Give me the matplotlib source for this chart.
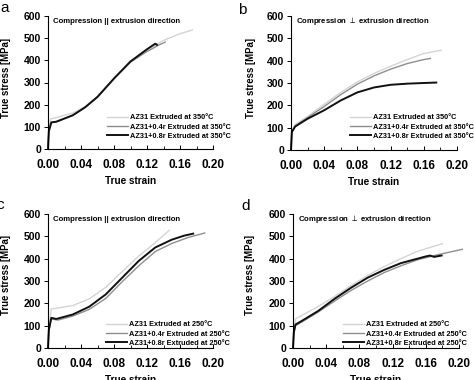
import matplotlib.pyplot as plt
from matplotlib.ticker import MultipleLocator

plt.rcParams['font.family'] = ['Liberation Sans', 'DejaVu Sans']

# ---- data (strain, stress MPa) ----
# panel a: compression || extrusion, 350 C
a_az31_x = [0.0, 0.001, 0.003, 0.01, 0.03, 0.045, 0.06, 0.08, 0.10, 0.12, 0.14, 0.16, 0.175]
a_az31_y = [0, 90, 135, 142, 162, 192, 238, 318, 392, 447, 490, 520, 537]
a_04_x = [0.0, 0.001, 0.004, 0.01, 0.03, 0.045, 0.06, 0.08, 0.10, 0.12, 0.135, 0.142]
a_04_y = [0, 80, 120, 123, 152, 188, 235, 318, 392, 440, 470, 482]
a_08_x = [0.0, 0.001, 0.004, 0.01, 0.03, 0.045, 0.06, 0.08, 0.10, 0.12, 0.13, 0.132]
a_08_y = [0, 80, 120, 123, 152, 188, 235, 318, 395, 450, 475, 470]

# panel b: compression perpendicular to extrusion, 350 C
b_az31_x = [0.0, 0.001, 0.005, 0.02, 0.04, 0.06, 0.08, 0.10, 0.12, 0.14, 0.16, 0.181]
b_az31_y = [0, 85, 115, 150, 205, 258, 305, 343, 375, 405, 432, 447]
b_04_x = [0.0, 0.001, 0.005, 0.02, 0.04, 0.06, 0.08, 0.10, 0.12, 0.14, 0.16, 0.168]
b_04_y = [0, 80, 108, 145, 195, 248, 295, 332, 362, 387, 405, 410]
b_08_x = [0.0, 0.001, 0.005, 0.02, 0.04, 0.06, 0.08, 0.10, 0.12, 0.14, 0.16, 0.175]
b_08_y = [0, 80, 105, 140, 178, 222, 258, 280, 292, 297, 300, 302]

# panel c: compression || extrusion, 250 C
c_az31_x = [0.0, 0.001, 0.004, 0.01, 0.03, 0.05, 0.07, 0.09, 0.11, 0.13, 0.147]
c_az31_y = [0, 90, 175, 178, 190, 220, 272, 342, 412, 472, 527]
c_04_x = [0.0, 0.001, 0.004, 0.012, 0.03, 0.05, 0.07, 0.09, 0.11, 0.13, 0.15, 0.17, 0.19]
c_04_y = [0, 80, 130, 125, 143, 173, 222, 297, 368, 432, 468, 495, 515]
c_08_x = [0.0, 0.001, 0.004, 0.01, 0.03, 0.05, 0.07, 0.09, 0.11, 0.13, 0.15, 0.165, 0.176]
c_08_y = [0, 80, 135, 130, 150, 185, 240, 315, 390, 450, 485, 503, 512]

# panel d: compression perpendicular to extrusion, 250 C
d_az31_x = [0.0, 0.001, 0.003, 0.01, 0.03, 0.05, 0.07, 0.09, 0.11, 0.13, 0.15, 0.18]
d_az31_y = [0, 80, 130, 145, 185, 230, 280, 325, 365, 400, 433, 467]
d_04_x = [0.0, 0.001, 0.003, 0.01, 0.03, 0.05, 0.07, 0.09, 0.11, 0.13, 0.15, 0.175, 0.204]
d_04_y = [0, 70, 100, 115, 160, 210, 258, 300, 338, 368, 395, 418, 442]
d_08_x = [0.0, 0.001, 0.003, 0.01, 0.03, 0.05, 0.07, 0.09, 0.11, 0.13, 0.15, 0.16, 0.165, 0.17, 0.179]
d_08_y = [0, 70, 105, 120, 165, 220, 270, 315, 350, 380, 400, 410, 414, 408, 414]

labels_350 = ["AZ31 Extruded at 350°C",
              "AZ31+0.4r Extruded at 350°C",
              "AZ31+0.8r Extruded at 350°C"]
labels_250 = ["AZ31 Extruded at 250°C",
              "AZ31+0.4r Extruded at 250°C",
              "AZ31+0.8r Extruded at 250°C"]

colors = ["#d4d4d4", "#8e8e8e", "#111111"]
widths = [1.0, 1.0, 1.4]

W, H = 474, 380

# letter, note, series, labels, axes box (px), legend anchor (px),
# ylabel centre (px), xlabel centre (px), letter position (px)
panels = [
    ("a", "Compression || extrusion direction",
     [(a_az31_x, a_az31_y), (a_04_x, a_04_y), (a_08_x, a_08_y)], labels_350,
     [48, 16, 213, 149], (107, 127), (6, 78), (131, 181), (0, 12)),
    ("b", "Compression $\\perp$ extrusion direction",
     [(b_az31_x, b_az31_y), (b_04_x, b_04_y), (b_08_x, b_08_y)], labels_350,
     [291, 16, 457, 150], (350, 127), (251, 78), (374, 182), (238, 14)),
    ("c", "Compression || extrusion direction",
     [(c_az31_x, c_az31_y), (c_04_x, c_04_y), (c_08_x, c_08_y)], labels_250,
     [48, 214, 213, 348], (106, 334), (6, 275), (131, 380), (-4, 209)),
    ("d", "Compression $\\perp$ extrusion direction",
     [(d_az31_x, d_az31_y), (d_04_x, d_04_y), (d_08_x, d_08_y)], labels_250,
     [293, 214, 459, 348], (343, 334), (250, 275), (376, 380), (241, 210)),
]

fig = plt.figure(figsize=(W / 100, H / 100), dpi=100)


def fpx(x, y):
    """pixel (from top-left) -> figure fraction"""
    return x / W, 1 - y / H


for letter, note, series, labels, box, leg, ylab, xlab, let in panels:
    x0, y0, x1, y1 = box
    ax = fig.add_axes([x0 / W, 1 - y1 / H, (x1 - x0) / W, (y1 - y0) / H])
    for (xs, ys), lab, c, lw in zip(series, labels, colors, widths):
        ax.plot(xs, ys, color=c, lw=lw, label=lab, clip_on=False)
    ax.set_xlim(0, 0.2)
    ax.set_ylim(0, 600)
    ax.set_xticks([0.0, 0.04, 0.08, 0.12, 0.16, 0.20])
    ax.set_xticklabels(["0.00", "0.04", "0.08", "0.12", "0.16", "0.20"])
    ax.set_yticks(range(0, 601, 100))
    ax.xaxis.set_minor_locator(MultipleLocator(0.02))
    ax.tick_params(axis='x', direction='in', length=3, width=0.7, pad=7,
                   labelsize=8.5)
    ax.tick_params(axis='x', which='minor', direction='in', length=2, width=0.6)
    ax.tick_params(axis='y', direction='out', length=3, width=0.7, pad=2,
                   labelsize=7.5)
    for lab in ax.get_xticklabels() + ax.get_yticklabels():
        lab.set_fontweight('bold')
    for s in ("top", "right"):
        ax.spines[s].set_visible(False)
    for s in ("left", "bottom"):
        ax.spines[s].set_linewidth(0.8)

    ax.set_xlabel("True strain", fontsize=7.2, fontweight='bold')
    ax.set_ylabel("True stress [MPa]", fontsize=6.9, fontweight='bold')
    ax.xaxis.set_label_coords(*fpx(*xlab), transform=fig.transFigure)
    ax.yaxis.set_label_coords(*fpx(*ylab), transform=fig.transFigure)
    ax.xaxis.label.set_va('center')
    ax.yaxis.label.set_va('center')

    ax.text(0.03, 0.96, note, transform=ax.transAxes, fontsize=5.6,
            fontweight='bold', va='center', ha='left')
    ax.legend(loc='center left', bbox_to_anchor=fpx(*leg),
              bbox_transform=fig.transFigure, frameon=False,
              prop={'size': 5.3, 'weight': 'bold'}, handlelength=2.9,
              handletextpad=0.2, labelspacing=0.3, borderpad=0,
              borderaxespad=0)
    fig.text(*fpx(*let), letter, fontsize=11, ha='left', va='baseline')

fig.savefig("out.png", dpi=100)
